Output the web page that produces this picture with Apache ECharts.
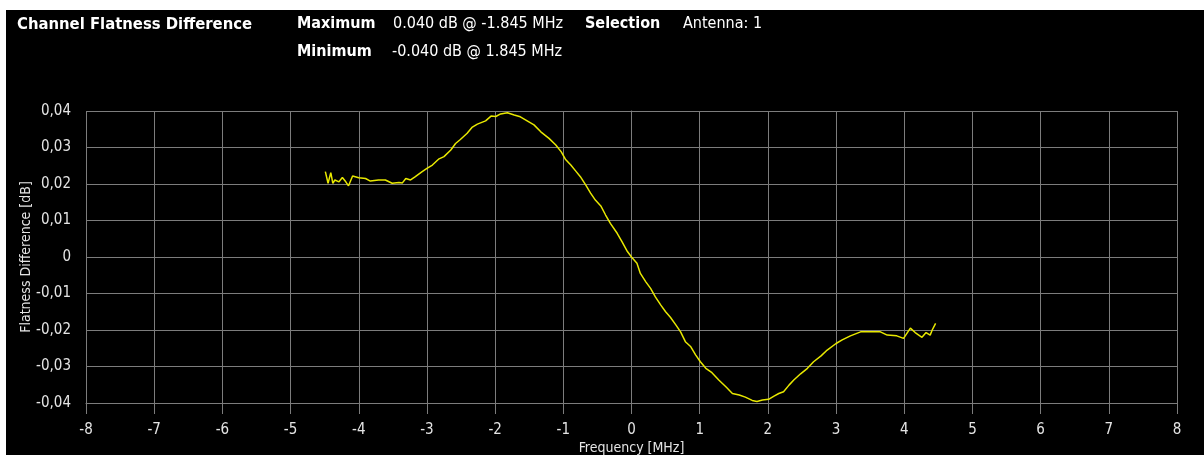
<!DOCTYPE html>
<html>
<head>
<meta charset="utf-8">
<script src="https://cdn.jsdelivr.net/npm/echarts@6/dist/echarts.min.js"></script>
<style>
  html, body { margin: 0; padding: 0; background: #ffffff; width: 1204px; height: 455px; overflow: hidden; }
  #chart { position: absolute; left: 6px; top: 10px; width: 1198px; height: 445px; background: #000; }
</style>
</head>
<body>
<div id="chart"></div>
<script>
// Frequency [MHz]
const freq = [
  -4.49, -4.45, -4.41, -4.38, -4.35, -4.29, -4.24, -4.19, -4.15, -4.09,
  -4.00, -3.90, -3.83, -3.71, -3.61, -3.51, -3.41, -3.36, -3.31, -3.24,
  -3.17, -3.07, -3.00, -2.92, -2.83, -2.75, -2.65, -2.58, -2.51, -2.41,
  -2.34, -2.26, -2.14, -2.06, -1.99, -1.92, -1.82, -1.72, -1.63, -1.53,
  -1.43, -1.33, -1.21, -1.11, -1.03, -0.97, -0.89, -0.82, -0.75, -0.67,
  -0.60, -0.53, -0.45, -0.38, -0.31, -0.21, -0.14, -0.06, 0.00, 0.08,
  0.13, 0.21, 0.28, 0.35, 0.43, 0.50, 0.57, 0.65, 0.72, 0.79,
  0.87, 0.94, 1.01, 1.09, 1.18, 1.28, 1.38, 1.48, 1.58, 1.67,
  1.77, 1.84, 1.92, 2.01, 2.09, 2.16, 2.23, 2.31, 2.38, 2.48,
  2.58, 2.67, 2.78, 2.87, 3.00, 3.09, 3.21, 3.36, 3.50, 3.65,
  3.75, 3.89, 3.99, 4.09, 4.16, 4.26, 4.32, 4.38, 4.41, 4.46
];
// Flatness Difference [dB]
const flatness = [
  0.0234, 0.0202, 0.0231, 0.0202, 0.0211, 0.0206, 0.0218, 0.0206, 0.0195, 0.0222,
  0.0217, 0.0215, 0.0208, 0.0211, 0.0211, 0.0202, 0.0204, 0.0203, 0.0215, 0.0211,
  0.0220, 0.0234, 0.0243, 0.0252, 0.0268, 0.0275, 0.0293, 0.0311, 0.0322, 0.0339,
  0.0355, 0.0364, 0.0373, 0.0386, 0.0385, 0.0392, 0.0395, 0.0389, 0.0384, 0.0373,
  0.0362, 0.0343, 0.0325, 0.0307, 0.0288, 0.0268, 0.0252, 0.0236, 0.0220, 0.0197,
  0.0175, 0.0156, 0.0140, 0.0115, 0.0092, 0.0065, 0.0042, 0.0015, 0.0000, -0.0017,
  -0.0045, -0.0068, -0.0086, -0.0109, -0.0132, -0.0150, -0.0165, -0.0186, -0.0205, -0.0232,
  -0.0246, -0.0268, -0.0287, -0.0305, -0.0317, -0.0337, -0.0355, -0.0374, -0.0378, -0.0384,
  -0.0393, -0.0396, -0.0392, -0.0390, -0.0381, -0.0374, -0.0369, -0.0351, -0.0337, -0.0320,
  -0.0305, -0.0287, -0.0271, -0.0255, -0.0237, -0.0227, -0.0216, -0.0205, -0.0205, -0.0205,
  -0.0214, -0.0216, -0.0223, -0.0195, -0.0207, -0.0220, -0.0207, -0.0214, -0.0200, -0.0182
];
const yTickValues = [-0.04, -0.03, -0.02, -0.01, 0, 0.01, 0.02, 0.03, 0.04];
const yTickLabels = ['-0,04', '-0,03', '-0,02', '-0,01', '0', '0,01', '0,02', '0,03', '0,04'];
const xTickValues = [-8, -7, -6, -5, -4, -3, -2, -1, 0, 1, 2, 3, 4, 5, 6, 7, 8];
const xTickLabels = ['-8', '-7', '-6', '-5', '-4', '-3', '-2', '-1', '0', '1', '2', '3', '4', '5', '6', '7', '8'];

const title = 'Channel Flatness Difference';
const maxLabel = 'Maximum', maxText = '0.040 dB @ -1.845 MHz';
const minLabel = 'Minimum', minText = '-0.040 dB @ 1.845 MHz';
const selLabel = 'Selection', selText = 'Antenna: 1';

const FONT = '"Liberation Sans Narrow", "DejaVu Sans Condensed", "Liberation Sans", Arial, sans-serif';

function nearestLabel(values, labels, v) {
  let best = 0;
  for (let i = 1; i < values.length; i++) {
    if (Math.abs(values[i] - v) < Math.abs(values[best] - v)) best = i;
  }
  return labels[best];
}

const chart = echarts.init(document.getElementById('chart'), null, { renderer: 'canvas' });
const gridColor = '#7c7c7c';
const labelColor = '#e4e4e4';

function txt(x, y, text, bold, size) {
  return {
    type: 'text', left: x, top: y,
    style: { text: text, fill: '#ffffff', font: (bold ? 'bold ' : '') + size + 'px ' + FONT }
  };
}

chart.setOption({
  backgroundColor: '#000000',
  animation: false,
  grid: { left: 80, right: 27, top: 101, bottom: 52, containLabel: false, outerBoundsMode: 'none' },
  graphic: [
    txt(11, 6, title, true, 16.5),
    txt(291, 6, maxLabel, true, 16),
    txt(387, 6, maxText, false, 16),
    txt(579, 6, selLabel, true, 16),
    txt(677, 6, selText, false, 16),
    txt(291, 34, minLabel, true, 16),
    txt(386, 34, minText, false, 16)
  ],
  xAxis: {
    type: 'value', min: -8, max: 8, interval: 1,
    name: 'Frequency [MHz]', nameLocation: 'middle', nameGap: 38, nameMoveOverlap: false,
    nameTextStyle: { color: labelColor, fontSize: 14, fontFamily: FONT },
    axisLine: { show: true, onZero: false, lineStyle: { color: gridColor, width: 1 } },
    axisTick: { show: true, length: 11, lineStyle: { color: gridColor } },
    axisLabel: {
      color: labelColor, fontSize: 15, fontFamily: FONT, margin: 20,
      formatter: v => nearestLabel(xTickValues, xTickLabels, v)
    },
    splitLine: { show: true, lineStyle: { color: gridColor, width: 1 } }
  },
  yAxis: {
    type: 'value', min: -0.04, max: 0.04, interval: 0.01,
    name: 'Flatness Difference [dB]', nameLocation: 'middle', nameGap: 53, nameMoveOverlap: false,
    nameTextStyle: { color: labelColor, fontSize: 14, fontFamily: FONT },
    axisLine: { show: true, lineStyle: { color: gridColor, width: 1 } },
    axisTick: { show: true, length: 12, lineStyle: { color: gridColor } },
    axisLabel: {
      color: labelColor, fontSize: 15, fontFamily: FONT, margin: 15,
      formatter: v => nearestLabel(yTickValues, yTickLabels, v)
    },
    splitLine: { show: true, lineStyle: { color: gridColor, width: 1 } }
  },
  series: [{
    type: 'line',
    data: freq.map((f, i) => [f, flatness[i]]),
    showSymbol: false,
    lineStyle: { color: '#e8e800', width: 1.5 },
    itemStyle: { color: '#e8e800' }
  }]
});
</script>
</body>
</html>
